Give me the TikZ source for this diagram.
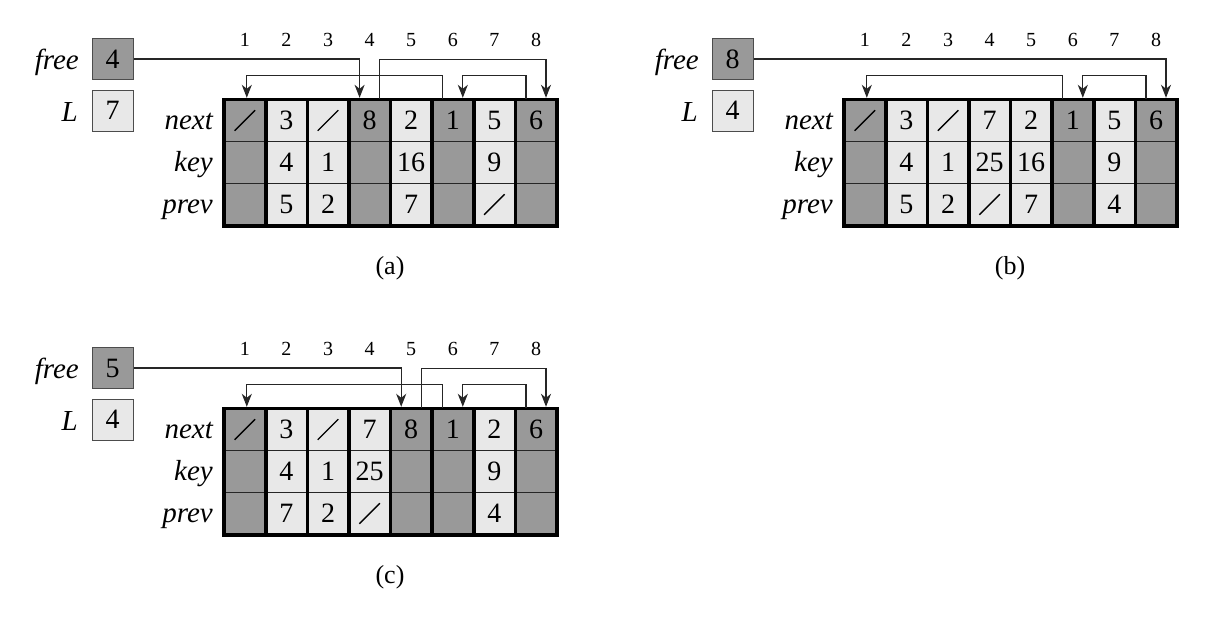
\documentclass[tikz,border=0pt]{standalone}
\usepackage{fontspec}
\setmainfont{Liberation Serif}
\usetikzlibrary{arrows.meta}
\definecolor{dk}{HTML}{999999}
\definecolor{lt}{HTML}{E8E8E8}
\tikzset{
 cell/.style={minimum width=41.6pt, minimum height=42pt, inner sep=0pt, draw=none, font=\fontsize{28}{30}\selectfont},
 ptrbox/.style={draw=black!70, line width=1pt, minimum width=41pt, minimum height=41pt, inner sep=0pt, font=\fontsize{28}{30}\selectfont},
 lbl/.style={font=\fontsize{29}{32}\selectfont\itshape, inner sep=0pt, anchor=base east},
 idx/.style={font=\fontsize{20}{22}\selectfont, inner sep=0pt},
 captext/.style={font=\fontsize{26}{28}\selectfont, inner sep=0pt},
 rowline/.style={line width=1pt, draw=black!85},
 bar/.style={line width=3.6pt, draw=black},
 arr/.style={line width=1.3pt, draw=black!85, shorten >=1.5pt, -{Stealth[length=13pt,width=10pt,inset=4pt]}},
}
\newcommand\slsh{\rotatebox{45}{\rule[-0.7pt]{29pt}{1.4pt}}}
\newcommand\emp{}
\newcommand\drawpanel[7]{%
\begin{scope}[shift={(#2,#3)}]
 \foreach \col/\nv/\kv/\pv [count=\i] in {#4} {
   \pgfmathsetmacro\cx{224+41.6*(\i-0.5)}
   \node[idx] (#1-i\i) at (\cx,40) {\i};
   \node[cell, fill=\col] (#1-n\i) at (\cx,120.5) {\nv};
   \node[cell, fill=\col] (#1-k\i) at (\cx,162.5) {\kv};
   \node[cell, fill=\col] (#1-p\i) at (\cx,204.5) {\pv};
 }
 \foreach \r in {n,k} \draw[rowline] (#1-\r1.south west) -- (#1-\r8.south east);
 \foreach \i in {1,...,7} \draw[bar] (#1-n\i.north east) -- (#1-p\i.south east);
 \draw[bar] (#1-n1.north west) rectangle (#1-p8.south east);
 \node[lbl] (#1-nl) at (213,129) {next};
 \node[lbl] (#1-kl) at (213,171) {key};
 \node[lbl] (#1-pl) at (213,213) {prev};
 \node[ptrbox, fill=dk] (#1-free) at (112.5,59) {#5};
 \node[lbl] (#1-freelbl) at (79,69) {free};
 \node[ptrbox, fill=lt] (#1-L) at (112.5,110.5) {#6};
 \node[lbl] (#1-Llbl) at (78,121) {L};
 \node[captext] (#1-cap) at (390,268) {#7};
\end{scope}}
\begin{document}
\begin{tikzpicture}[x=1pt,y=-1pt]
\useasboundingbox (0,0) rectangle (1208,621);
\drawpanel{a}{0}{0}{dk/\slsh/\emp/\emp, lt/3/4/5, lt/\slsh/1/2, dk/8/\emp/\emp, lt/2/16/7, dk/1/\emp/\emp, lt/5/9/\slsh, dk/6/\emp/\emp}{4}{7}{(a)}
\drawpanel{b}{620}{0}{dk/\slsh/\emp/\emp, lt/3/4/5, lt/\slsh/1/2, lt/7/25/\slsh, lt/2/16/7, dk/1/\emp/\emp, lt/5/9/4, dk/6/\emp/\emp}{8}{4}{(b)}
\drawpanel{c}{0}{309}{dk/\slsh/\emp/\emp, lt/3/4/7, lt/\slsh/1/2, lt/7/25/\slsh, dk/8/\emp/\emp, dk/1/\emp/\emp, lt/2/9/4, dk/6/\emp/\emp}{5}{4}{(c)}
% (a)
\draw[arr] (a-free.east) -| ([xshift=-10pt]a-n4.north);
\draw[arr] ([xshift=10pt]a-n4.north) -- ++(0,-40) -| ([xshift=10pt]a-n8.north);
\draw[arr] ([xshift=-10pt]a-n6.north) -- ++(0,-24) -| ([xshift=2pt]a-n1.north);
\draw[arr] ([xshift=-10pt]a-n8.north) -- ++(0,-24) -| ([xshift=10pt]a-n6.north);
% (b)
\draw[arr] (b-free.east) -| ([xshift=10pt]b-n8.north);
\draw[arr] ([xshift=-10pt]b-n6.north) -- ++(0,-24) -| ([xshift=2pt]b-n1.north);
\draw[arr] ([xshift=-10pt]b-n8.north) -- ++(0,-24) -| ([xshift=10pt]b-n6.north);
% (c)
\draw[arr] (c-free.east) -| ([xshift=-10pt]c-n5.north);
\draw[arr] ([xshift=10pt]c-n5.north) -- ++(0,-40) -| ([xshift=10pt]c-n8.north);
\draw[arr] ([xshift=-10pt]c-n6.north) -- ++(0,-24) -| ([xshift=2pt]c-n1.north);
\draw[arr] ([xshift=-10pt]c-n8.north) -- ++(0,-24) -| ([xshift=10pt]c-n6.north);
\end{tikzpicture}
\end{document}
